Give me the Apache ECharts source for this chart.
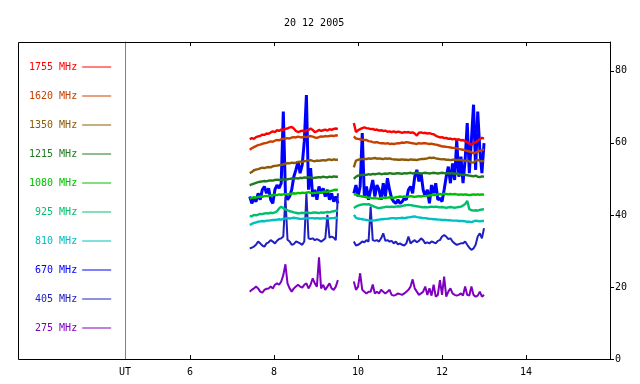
<!DOCTYPE html>
<html><head><meta charset="utf-8">
<script src="https://cdn.jsdelivr.net/npm/echarts@6/dist/echarts.min.js"></script>
<style>html,body{margin:0;padding:0;background:#fff}#c{width:640px;height:384px}</style>
</head><body><div id="c"></div>
<script>
const chartTitle = '20 12 2005';
const xTicks = [6, 8, 10, 12, 14];
const yTicks = [0, 20, 40, 60, 80];
const legendNames = ['1755 MHz','1620 MHz','1350 MHz','1215 MHz','1080 MHz','925 MHz','810 MHz','670 MHz','405 MHz','275 MHz'];
const seriesColors = ['#ff0000','#c84000','#8c5a08','#207a20','#00c000','#00c070','#00c0c0','#0000ff','#2020c0','#8000c0'];
// sampling of the two observation segments (UT hours)
const seg1Start = 7.42, seg2Start = 9.90, sampleStep = 0.05, gapTime = 9.7;

const f1755a = [61.0,61.3,61.1,61.6,61.8,61.9,62.3,62.2,62.6,62.5,62.9,63.2,63.0,63.5,63.3,63.7,63.6,63.9,64.0,64.3,64.4,64.0,63.3,63.0,63.2,63.4,63.1,63.5,63.6,64.0,63.6,63.0,63.2,63.6,63.3,63.5,63.7,63.4,63.8,63.6,63.9,64.0,63.9];
const f1755b = [65.5,63.0,63.5,63.8,64.1,64.3,64.1,64.0,63.8,63.9,63.6,63.7,63.4,63.5,63.3,63.4,63.1,63.2,63.0,63.2,62.9,63.1,63.0,62.8,63.0,62.9,63.0,62.8,62.9,62.6,62.0,62.8,62.9,62.7,62.8,62.6,62.7,62.5,62.4,62.0,61.7,61.5,61.6,61.3,61.4,61.1,61.2,61.0,61.1,60.9,61.0,60.7,60.8,60.5,60.2,59.8,59.5,59.9,60.2,60.6,61.0,61.4,61.2];
const f1620a = [58.1,58.5,58.8,59.1,59.4,59.5,59.7,59.9,60.0,60.2,60.4,60.3,60.6,60.8,60.7,61.0,61.1,61.2,61.3,61.2,61.5,61.6,61.5,61.7,61.6,61.5,61.7,61.6,61.8,61.9,61.7,61.5,61.4,61.6,61.8,61.7,61.9,61.8,61.9,62.0,61.9,62.1,62.0];
const f1620b = [61.8,61.2,61.1,61.0,60.9,60.8,60.8,60.5,60.4,60.2,60.1,60.2,60.0,59.9,59.9,59.8,59.9,59.7,59.8,59.7,59.8,59.9,59.9,60.1,60.0,60.2,60.1,60.0,59.9,59.8,59.7,59.9,59.8,59.9,59.9,59.8,59.7,59.8,59.6,59.5,59.4,59.2,59.0,59.0,58.9,58.8,58.7,58.6,58.6,58.5,58.3,58.2,58.1,57.9,57.8,57.6,57.4,57.1,57.3,57.6,57.8,58.0,58.1];
const f1350a = [51.6,51.9,52.4,52.6,52.7,52.9,53.1,53.0,53.2,53.3,53.2,53.5,53.6,53.7,53.8,53.9,54.0,54.2,54.4,54.3,54.5,54.4,54.5,54.7,54.8,54.7,54.9,55.0,55.1,55.2,55.0,54.9,55.1,55.0,55.1,55.2,55.1,55.3,55.4,55.2,55.4,55.3,55.3];
const f1350b = [53.2,55.1,55.3,55.4,55.5,55.6,55.5,55.7,55.6,55.7,55.8,55.6,55.7,55.6,55.5,55.7,55.6,55.7,55.5,55.4,55.4,55.3,55.3,55.4,55.3,55.3,55.2,55.4,55.3,55.3,55.2,55.4,55.5,55.5,55.6,55.7,55.9,55.8,55.9,55.7,55.6,55.5,55.4,55.5,55.3,55.3,55.2,55.3,55.3,55.2,55.3,55.2,55.1,55.0,55.1,54.9,54.6,54.5,55.0,55.3,55.0,54.9,55.0];
const f1215a = [48.2,48.5,48.7,48.9,49.1,49.2,49.3,49.4,49.3,49.5,49.6,49.5,49.7,49.8,49.7,49.8,49.9,49.8,49.9,50.0,50.1,50.0,50.2,50.1,50.3,50.2,50.4,50.3,50.5,50.4,50.2,50.3,50.4,50.5,50.4,50.6,50.5,50.4,50.6,50.5,50.7,50.6,50.6];
const f1215b = [50.0,50.6,50.9,51.0,51.1,51.2,51.1,51.3,51.2,51.4,51.3,51.4,51.5,51.3,51.4,51.5,51.4,51.6,51.5,51.4,51.5,51.6,51.5,51.4,51.6,51.5,51.6,51.7,51.5,51.6,51.7,51.6,51.5,51.6,51.7,51.6,51.5,51.6,51.7,51.6,51.5,51.6,51.7,51.6,51.5,51.6,51.5,51.6,51.4,51.5,51.3,51.2,51.1,51.2,51.0,50.9,50.8,50.7,50.9,50.6,50.5,50.7,50.6];
const f1080a = [44.5,44.7,44.9,44.8,45.0,45.1,45.0,45.2,45.3,45.2,45.4,45.5,45.6,45.5,45.7,45.6,45.7,45.8,45.7,45.8,45.9,46.0,45.9,46.1,46.0,46.2,46.1,46.2,46.3,46.1,46.0,46.1,46.2,46.3,46.2,46.4,46.5,46.4,46.6,46.7,46.9,47.0,46.9];
const f1080b = [45.8,45.6,45.4,45.3,45.1,45.0,44.9,44.8,44.7,44.6,44.7,44.6,44.5,44.7,44.8,44.7,44.8,44.9,44.8,44.7,44.9,45.0,45.1,45.0,45.1,45.0,45.1,45.2,45.1,45.0,45.1,45.2,45.1,45.3,45.2,45.3,45.4,45.5,45.6,45.5,45.7,45.8,45.7,45.9,45.8,45.7,45.8,45.7,45.8,45.7,45.6,45.7,45.6,45.7,45.6,45.5,45.6,45.7,45.6,45.7,45.6,45.7,45.6];
const f925a = [39.7,39.6,40.0,39.9,40.1,40.3,40.2,40.4,40.5,40.4,40.6,40.5,40.7,41.0,41.8,42.3,41.9,41.5,41.3,41.0,40.9,40.7,40.6,40.4,40.5,40.6,40.5,40.7,40.6,40.5,40.6,40.7,40.6,40.5,40.7,40.6,40.7,40.8,40.7,40.9,41.0,41.2,41.1];
const f925b = [41.9,42.3,42.6,42.8,42.9,43.0,42.9,43.0,42.7,42.5,42.2,42.0,41.9,42.0,42.1,42.2,42.3,42.2,42.3,42.2,42.3,42.4,42.3,42.5,42.6,42.7,42.8,42.7,42.6,42.5,42.4,42.3,42.2,42.1,42.2,42.1,42.2,42.3,42.2,42.3,42.2,42.1,42.2,42.1,42.0,42.1,42.2,42.1,42.0,42.1,42.2,42.3,42.6,43.0,43.9,41.6,41.3,41.2,41.3,41.2,41.4,41.5,41.6];
const f810a = [37.2,37.5,37.8,37.9,38.1,38.2,38.3,38.2,38.4,38.4,38.5,38.6,38.6,38.7,38.8,38.7,38.9,39.0,39.1,39.0,39.1,39.2,39.1,39.0,38.9,38.9,39.0,39.1,39.0,39.1,39.1,39.0,39.1,39.0,39.0,39.1,39.0,39.1,39.0,39.1,39.1,39.2,39.1];
const f810b = [40.0,39.2,39.0,38.9,38.8,38.7,38.6,38.5,38.4,38.4,38.5,38.6,38.7,38.8,38.8,38.9,38.9,39.0,39.1,39.1,39.0,39.1,39.1,39.2,39.1,39.2,39.3,39.4,39.5,39.6,39.4,39.3,39.2,39.1,39.1,39.0,38.9,38.9,38.8,38.8,38.7,38.7,38.6,38.6,38.6,38.5,38.5,38.4,38.4,38.4,38.3,38.3,38.3,38.2,38.1,38.1,38.0,38.2,38.4,38.3,38.2,38.3,38.3];
const f670a = [45.1,43.2,44.6,43.7,46.0,44.2,47.0,47.9,46.0,47.4,44.2,43.2,47.0,48.3,47.4,48.8,68.7,46.0,44.2,45.1,47.0,50.6,52.5,54.8,51.6,53.9,60.4,73.3,47.0,53.0,45.1,47.0,44.2,47.9,46.0,47.4,45.1,47.0,44.2,46.0,43.7,45.1,43.2];
const f670b = [46.0,48.3,45.1,47.9,62.7,45.1,47.9,44.2,47.0,49.7,45.1,48.3,47.0,44.2,48.8,45.1,50.2,47.0,44.6,43.7,43.2,44.2,43.2,43.7,44.6,44.2,47.0,47.9,46.0,50.6,52.5,49.3,51.6,47.0,45.1,47.0,43.2,48.3,46.0,48.8,44.2,44.6,43.7,47.0,50.6,53.4,48.8,54.3,49.7,60.8,50.6,56.2,48.8,55.3,65.5,51.6,60.8,70.6,52.5,68.7,58.1,51.6,59.9];
const f405a = [30.7,30.9,31.2,31.7,32.6,32.1,31.5,31.2,32.1,32.4,33.0,32.6,32.1,32.8,33.3,33.5,34.0,45.0,33.1,32.6,31.7,31.9,32.6,32.4,32.1,31.7,32.6,46.0,33.5,33.3,33.5,33.0,33.3,33.0,32.6,33.0,33.5,40.0,33.7,34.0,33.7,33.0,46.0];
const f405b = [32.6,31.5,31.7,32.1,32.6,32.4,33.0,32.6,42.3,33.0,32.8,33.0,32.6,33.5,34.9,32.8,33.0,32.6,32.8,32.1,32.6,31.8,32.1,31.7,31.5,32.1,34.0,32.1,32.6,33.0,32.4,32.8,33.5,33.0,32.1,32.4,32.1,32.6,32.4,32.1,32.8,33.0,34.0,34.4,34.0,33.3,33.5,32.6,32.1,31.7,31.9,32.1,32.1,32.6,31.7,30.9,30.3,30.7,31.7,34.0,34.9,33.5,36.3];
const f275a = [18.7,19.2,19.6,20.1,19.6,18.7,18.4,19.2,19.5,19.6,20.1,19.6,20.6,21.0,20.6,21.5,23.3,26.3,21.0,19.6,18.7,19.6,20.1,20.6,20.1,19.8,20.6,21.0,19.6,20.6,22.4,21.0,20.1,28.2,19.6,20.6,19.2,20.1,21.0,19.6,19.2,20.1,21.9];
const f275b = [21.5,19.2,20.1,23.8,19.2,18.7,18.2,18.7,18.7,20.7,18.2,18.7,18.2,19.2,18.7,18.2,18.7,19.2,17.8,17.6,17.8,18.2,18.0,17.8,18.2,18.7,19.2,20.1,22.1,19.6,18.7,17.8,18.2,18.7,20.1,17.8,19.6,17.6,20.6,17.3,17.8,21.9,17.8,22.9,17.3,18.7,19.6,18.2,17.8,17.6,17.8,18.2,17.6,20.1,17.8,17.6,20.1,17.8,17.3,17.6,18.7,17.3,17.8];

const segA = [f1755a,f1620a,f1350a,f1215a,f1080a,f925a,f810a,f670a,f405a,f275a];
const segB = [f1755b,f1620b,f1350b,f1215b,f1080b,f925b,f810b,f670b,f405b,f275b];

function toPairs(vals, start) {
  return vals.map((v, i) => [+(start + i * sampleStep).toFixed(2), v]);
}
const MONO = 'DejaVu Sans Mono';
// draw order: 670 first so the others lie on top of it
const drawOrder = [7, 8, 9, 6, 5, 3, 4, 2, 1, 0];
const series = drawOrder.map(k => ({
  name: legendNames[k],
  type: 'line',
  symbol: 'none',
  xAxisIndex: 0, yAxisIndex: 0,
  lineStyle: { width: (k === 7) ? 3 : (k === 8 || k === 9) ? 2 : 2.4, color: seriesColors[k] },
  itemStyle: { color: seriesColors[k] },
  data: toPairs(segA[k], seg1Start).concat([[gapTime, '-']]).concat(toPairs(segB[k], seg2Start)),
  animation: false
}));

const chart = echarts.init(document.getElementById('c'), null, { renderer: 'canvas' });
chart.setOption({
  backgroundColor: '#fff',
  animation: false,
  title: { text: chartTitle, left: 279, top: 13, textStyle: { fontFamily: MONO, fontSize: 10, fontWeight: 'normal', color: '#000' } },
  legend: {
    orient: 'vertical', left: 24, top: 57, align: 'right',
    itemWidth: 29, itemHeight: 11, itemGap: 19,
    icon: 'path://M0 0H29V1H0Z',
    selectedMode: false,
    textStyle: { fontFamily: MONO, fontSize: 10 },
    data: legendNames.map((n, k) => ({ name: n, textStyle: { color: seriesColors[k] }, itemStyle: { color: seriesColors[k] } }))
  },
  grid: { left: 125, right: 30, top: 42, bottom: 25, containLabel: false },
  xAxis: [{
    type: 'value', min: 4.45, max: 16, position: 'bottom',
    axisLine: { show: true, onZero: false, lineStyle: { color: '#000', width: 1 } },
    axisTick: { show: true, inside: true, length: 4, customValues: xTicks, lineStyle: { color: '#000' } },
    axisLabel: { customValues: [4.45].concat(xTicks), formatter: v => (v < 5 ? 'UT' : String(v)), color: '#000', fontFamily: MONO, fontSize: 10, margin: 8 },
    splitLine: { show: false }
  }, {
    type: 'value', min: 4.45, max: 16, position: 'top',
    axisLine: { show: true, onZero: false, lineStyle: { color: '#000', width: 1 } },
    axisTick: { show: true, inside: true, length: 4, customValues: xTicks, lineStyle: { color: '#000' } },
    axisLabel: { show: false },
    splitLine: { show: false }
  }],
  yAxis: [{
    type: 'value', min: 0, max: 88, position: 'right',
    axisLine: { show: true, onZero: false, lineStyle: { color: '#000', width: 1 } },
    axisTick: { show: true, length: 4, customValues: yTicks, lineStyle: { color: '#000' } },
    axisLabel: { customValues: yTicks, color: '#000', fontFamily: MONO, fontSize: 10, margin: 5 },
    splitLine: { show: false }
  }, {
    type: 'value', min: 0, max: 88, position: 'left',
    axisLine: { show: true, onZero: false, lineStyle: { color: '#808080', width: 1 } },
    axisTick: { show: false }, axisLabel: { show: false }, splitLine: { show: false }
  }],
  graphic: [{
    type: 'polyline', silent: true,
    shape: { points: [[125, 42.5], [18.5, 42.5], [18.5, 359.5], [125, 359.5]] },
    style: { stroke: '#000', lineWidth: 1, fill: null }
  }],
  series: series
});
</script></body></html>
